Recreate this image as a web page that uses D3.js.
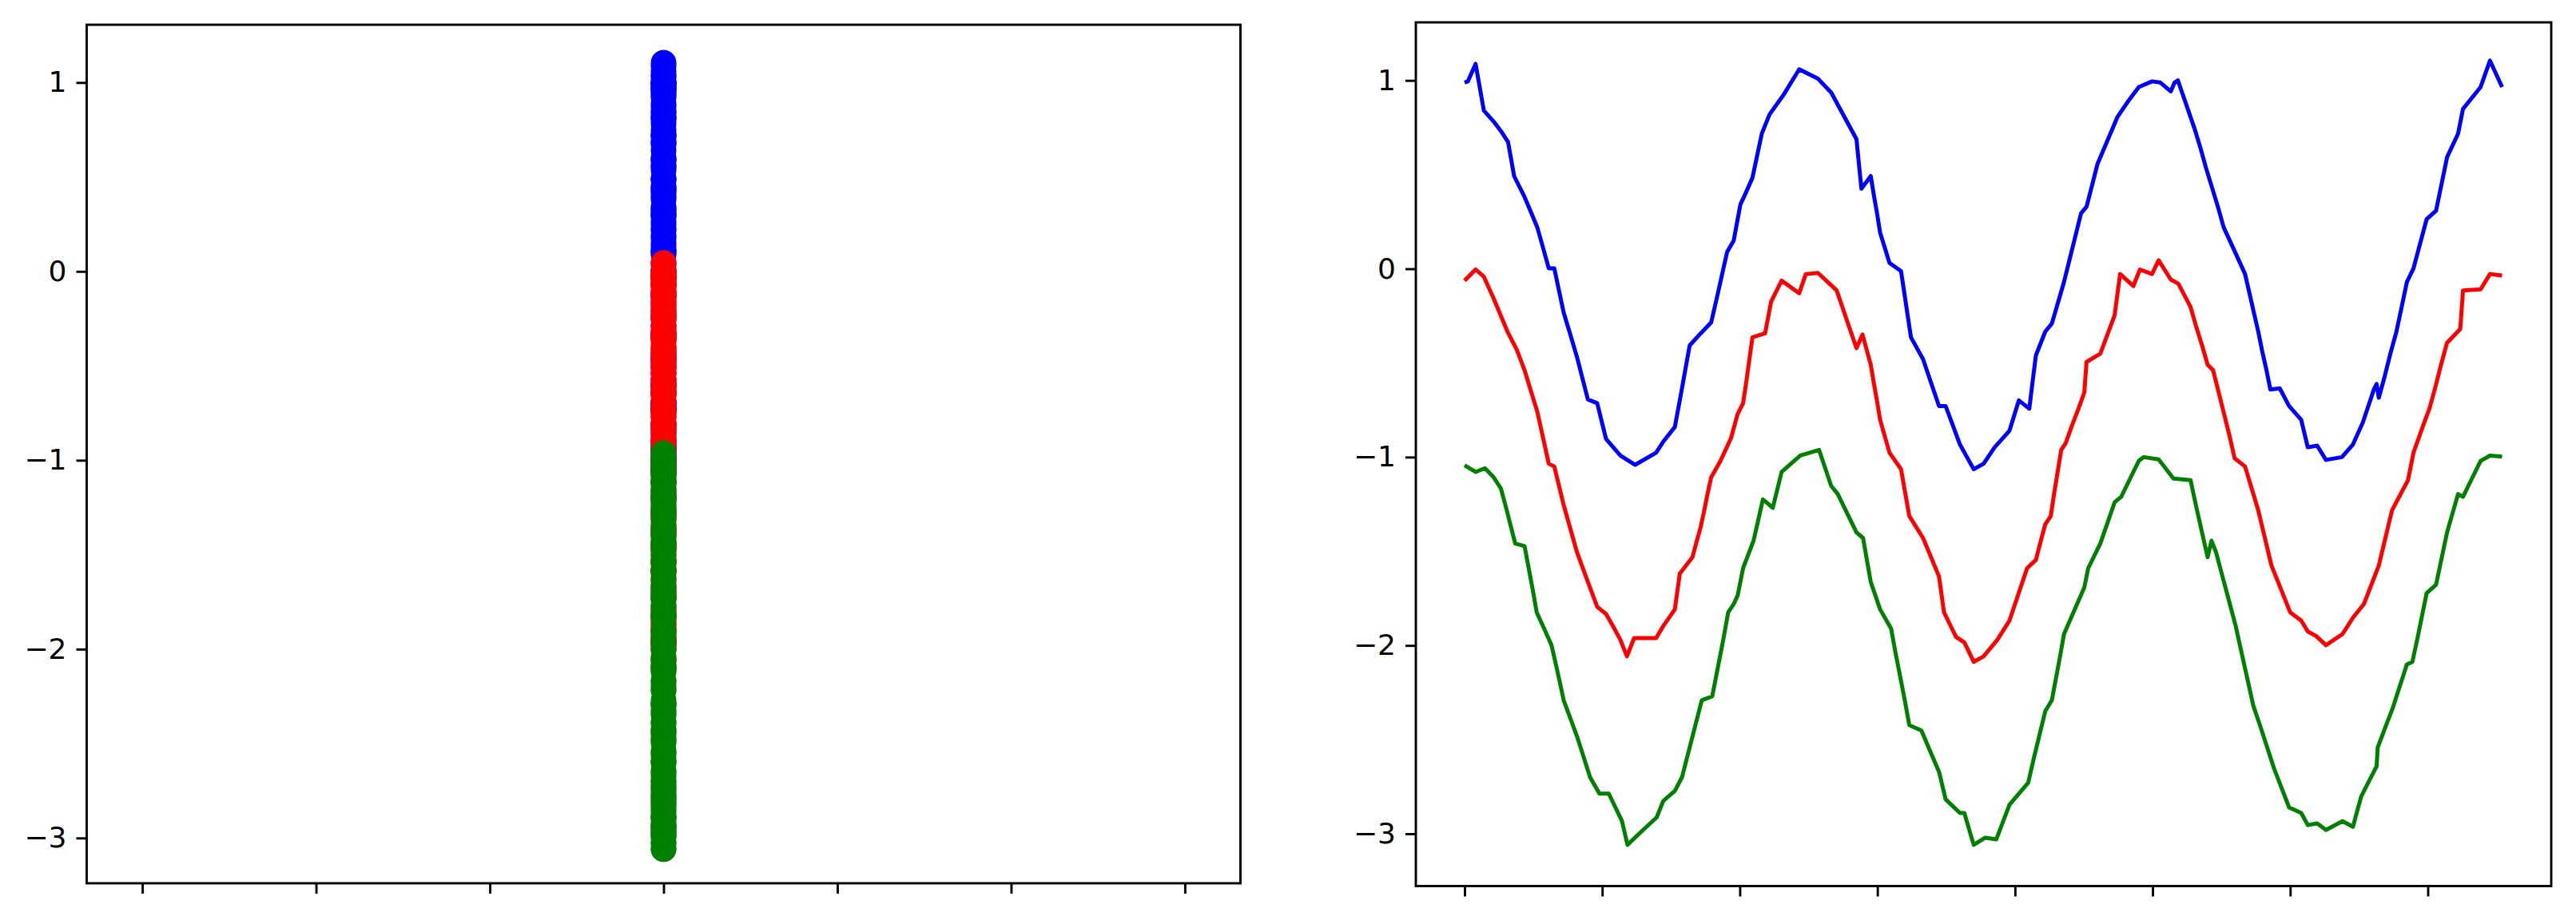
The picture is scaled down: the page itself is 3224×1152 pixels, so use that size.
<!DOCTYPE html>
<html><head><meta charset="utf-8">
<script src="https://cdn.jsdelivr.net/npm/d3@7"></script>
<style>html,body{margin:0;padding:0;background:#fff;}svg{display:block;}</style>
</head><body>
<svg id="chart" width="3224" height="1152"></svg>
<script>
// ---------- data ----------
const yTicks = [-3, -2, -1, 0, 1];
const leftXTicks = [-3, -2, -1, 0, 1, 2, 3];
const rightXTicks = [0, 2.5, 5, 7.5, 10, 12.5, 15, 17.5];
const scatterX = 0;

const blueT = [0.00,0.06,0.20,0.275,0.35,0.53,0.68,0.79,0.845,0.90,1.09,1.205,1.32,1.425,1.53,1.63,1.715,1.80,1.92,2.04,2.14,2.24,2.41,2.49,2.57,2.83,3.10,3.48,3.61,3.82,3.91,3.97,4.03,4.09,4.29,4.48,4.58,4.675,4.77,4.89,4.95,5.01,5.12,5.23,5.315,5.40,5.54,5.79,6.08,6.42,6.66,6.89,7.12,7.165,7.21,7.38,7.435,7.495,7.55,7.635,7.72,7.93,7.99,8.05,8.11,8.33,8.475,8.62,8.74,8.87,9.00,9.125,9.25,9.43,9.63,9.90,10.07,10.26,10.32,10.38,10.55,10.67,10.78,10.89,10.99,11.10,11.20,11.30,11.40,11.50,11.68,11.86,12.05,12.25,12.49,12.64,12.83,12.90,12.96,13.11,13.26,13.37,13.47,13.58,13.69,13.79,13.985,14.18,14.26,14.34,14.42,14.49,14.57,14.64,14.81,14.98,15.20,15.26,15.32,15.49,15.65,15.94,16.14,16.32,16.42,16.52,16.57,16.61,16.72,16.82,16.93,17.025,17.12,17.24,17.36,17.48,17.65,17.75,17.85,18.05,18.14,18.46,18.545,18.63,18.74,18.85];
const blueV = [0.989,0.995,1.088,0.964,0.840,0.781,0.723,0.673,0.583,0.492,0.381,0.301,0.221,0.112,0.002,0.002,-0.115,-0.232,-0.349,-0.466,-0.580,-0.694,-0.714,-0.809,-0.904,-0.992,-1.041,-0.977,-0.918,-0.840,-0.699,-0.602,-0.504,-0.407,-0.343,-0.285,-0.159,-0.035,0.089,0.150,0.245,0.340,0.410,0.483,0.600,0.717,0.819,0.921,1.059,1.009,0.936,0.812,0.688,0.556,0.425,0.492,0.392,0.292,0.191,0.111,0.031,-0.013,-0.130,-0.247,-0.364,-0.480,-0.605,-0.729,-0.729,-0.831,-0.933,-0.999,-1.064,-1.035,-0.948,-0.860,-0.699,-0.743,-0.600,-0.460,-0.334,-0.291,-0.181,-0.071,0.047,0.176,0.294,0.329,0.443,0.557,0.681,0.805,0.887,0.965,0.995,0.989,0.942,0.989,1.000,0.873,0.746,0.641,0.536,0.431,0.326,0.221,0.097,-0.028,-0.130,-0.232,-0.334,-0.436,-0.539,-0.641,-0.635,-0.729,-0.802,-0.875,-0.948,-0.939,-1.015,-1.000,-0.933,-0.816,-0.729,-0.641,-0.612,-0.685,-0.568,-0.451,-0.334,-0.203,-0.071,0.002,0.133,0.264,0.308,0.450,0.592,0.717,0.849,0.965,1.035,1.105,1.035,0.965];

const redT = [0.00,0.20,0.35,0.53,0.655,0.78,0.95,1.09,1.205,1.32,1.39,1.46,1.53,1.63,1.715,1.80,1.92,2.04,2.14,2.24,2.41,2.57,2.70,2.83,2.95,3.08,3.48,3.61,3.82,3.865,3.91,4.14,4.215,4.29,4.355,4.415,4.48,4.65,4.84,4.96,5.06,5.12,5.175,5.23,5.46,5.515,5.57,5.76,6.08,6.20,6.42,6.76,6.88,7.00,7.12,7.23,7.305,7.38,7.435,7.495,7.55,7.635,7.72,7.93,8.005,8.08,8.33,8.475,8.62,8.665,8.71,8.82,8.93,9.08,9.25,9.43,9.68,9.90,10.06,10.22,10.38,10.465,10.55,10.65,10.71,10.775,10.84,10.92,11.03,11.15,11.26,11.28,11.30,11.55,11.68,11.81,11.86,11.91,12.15,12.27,12.49,12.61,12.83,12.97,13.19,13.29,13.40,13.50,13.60,13.70,13.80,13.90,13.99,14.18,14.30,14.42,14.50,14.58,14.66,14.83,15.00,15.20,15.32,15.47,15.65,15.95,16.14,16.34,16.475,16.61,16.69,16.77,16.85,17.00,17.14,17.19,17.24,17.335,17.43,17.53,17.64,17.74,17.85,18.09,18.115,18.14,18.46,18.63,18.85];
const redV = [-0.063,-0.004,-0.042,-0.159,-0.247,-0.334,-0.431,-0.539,-0.649,-0.758,-0.850,-0.943,-1.035,-1.050,-1.152,-1.254,-1.379,-1.503,-1.583,-1.663,-1.795,-1.833,-1.900,-1.970,-2.058,-1.961,-1.961,-1.897,-1.809,-1.714,-1.619,-1.532,-1.450,-1.371,-1.283,-1.195,-1.108,-1.020,-0.900,-0.772,-0.714,-0.597,-0.480,-0.364,-0.343,-0.258,-0.174,-0.063,-0.130,-0.028,-0.022,-0.115,-0.217,-0.320,-0.422,-0.349,-0.430,-0.510,-0.607,-0.705,-0.802,-0.890,-0.977,-1.064,-1.190,-1.313,-1.430,-1.532,-1.634,-1.729,-1.824,-1.890,-1.955,-1.984,-2.087,-2.058,-1.970,-1.868,-1.729,-1.590,-1.546,-1.450,-1.357,-1.313,-1.196,-1.079,-0.962,-0.927,-0.837,-0.746,-0.656,-0.575,-0.495,-0.451,-0.349,-0.247,-0.137,-0.028,-0.092,-0.004,-0.028,0.045,-0.057,-0.080,-0.203,-0.305,-0.408,-0.510,-0.539,-0.656,-0.772,-0.890,-1.006,-1.050,-1.166,-1.283,-1.380,-1.478,-1.576,-1.700,-1.824,-1.868,-1.926,-1.950,-1.999,-1.940,-1.853,-1.780,-1.678,-1.576,-1.478,-1.381,-1.283,-1.200,-1.123,-1.050,-0.977,-0.899,-0.821,-0.743,-0.626,-0.510,-0.393,-0.320,-0.218,-0.115,-0.109,-0.028,-0.036];

const greenT = [0.00,0.20,0.37,0.53,0.66,0.75,0.835,0.92,1.09,1.165,1.24,1.31,1.445,1.58,1.655,1.73,1.80,1.92,2.04,2.16,2.28,2.45,2.62,2.86,2.91,2.96,3.22,3.49,3.61,3.82,3.95,4.04,4.13,4.22,4.31,4.50,4.60,4.70,4.79,4.89,4.96,5.06,5.25,5.335,5.42,5.60,5.68,5.76,6.10,6.44,6.55,6.66,6.78,6.95,7.12,7.24,7.31,7.38,7.465,7.55,7.75,7.83,7.915,8.00,8.08,8.30,8.46,8.62,8.68,8.74,9.00,9.08,9.165,9.25,9.46,9.66,9.78,9.90,10.24,10.34,10.445,10.55,10.67,10.745,10.82,10.89,11.075,11.26,11.33,11.55,11.68,11.81,11.93,12.09,12.25,12.34,12.61,12.88,13.19,13.29,13.395,13.50,13.57,13.65,13.77,13.89,14.01,14.09,14.17,14.25,14.33,14.46,14.585,14.71,14.845,14.98,15.20,15.32,15.49,15.65,15.95,16.14,16.215,16.29,16.43,16.57,16.59,16.725,16.86,16.99,17.12,17.22,17.31,17.395,17.48,17.65,17.75,17.85,17.95,18.05,18.14,18.30,18.46,18.63,18.85];
const greenV = [-1.044,-1.079,-1.059,-1.108,-1.167,-1.264,-1.362,-1.459,-1.473,-1.590,-1.707,-1.824,-1.910,-1.999,-2.096,-2.194,-2.291,-2.386,-2.481,-2.590,-2.700,-2.787,-2.787,-2.933,-2.996,-3.059,-2.986,-2.913,-2.826,-2.773,-2.700,-2.598,-2.496,-2.393,-2.291,-2.270,-2.120,-1.970,-1.824,-1.780,-1.736,-1.590,-1.444,-1.335,-1.225,-1.269,-1.174,-1.079,-0.992,-0.962,-1.057,-1.152,-1.196,-1.298,-1.400,-1.430,-1.547,-1.663,-1.736,-1.809,-1.911,-2.040,-2.167,-2.295,-2.423,-2.452,-2.562,-2.671,-2.744,-2.817,-2.890,-2.890,-2.975,-3.059,-3.021,-3.030,-2.938,-2.846,-2.729,-2.602,-2.476,-2.349,-2.291,-2.174,-2.057,-1.940,-1.816,-1.692,-1.590,-1.459,-1.350,-1.240,-1.211,-1.115,-1.020,-1.000,-1.012,-1.114,-1.123,-1.259,-1.396,-1.532,-1.444,-1.503,-1.634,-1.765,-1.897,-2.003,-2.109,-2.214,-2.320,-2.432,-2.544,-2.656,-2.758,-2.860,-2.890,-2.954,-2.945,-2.980,-2.933,-2.963,-2.882,-2.802,-2.722,-2.642,-2.542,-2.438,-2.335,-2.218,-2.101,-2.087,-1.965,-1.843,-1.722,-1.678,-1.539,-1.400,-1.298,-1.196,-1.211,-1.115,-1.020,-0.992,-0.997];

const seriesColors = ["#0000ff", "#ff0000", "#008000"];

// ---------- drawing ----------
const svg = d3.select("#chart");
svg.append("rect").attr("width", 3224).attr("height", 1152).attr("fill", "#fff");

const FONT = "'DejaVu Sans', sans-serif";
const FS = 36, TICK = 13, PAD = 12, SPW = 2.9;

const series = [
  {t: blueT, v: blueV, c: seriesColors[0]},
  {t: redT, v: redV, c: seriesColors[1]},
  {t: greenT, v: greenV, c: seriesColors[2]}
];

function panel(box, x, y, xt) {
  const g = svg.append("g");
  const ay = g.append("g").attr("transform", `translate(${box.l},0)`)
    .call(d3.axisLeft(y).tickValues(yTicks).tickSize(TICK).tickPadding(PAD)
      .tickFormat(d => d < 0 ? "\u2212" + Math.abs(d) : String(d)));
  const ax = g.append("g").attr("transform", `translate(0,${box.b})`)
    .call(d3.axisBottom(x).tickValues(xt).tickSize(TICK).tickFormat(""));
  [ay, ax].forEach(a => {
    a.select(".domain").remove();
    a.selectAll(".tick line").attr("stroke", "#000").attr("stroke-width", SPW);
    a.selectAll(".tick text").attr("fill", "#000").style("font-family", FONT).style("font-size", FS + "px");
  });
  return g;
}

// Left panel (scatter of every value at one x position)
const L = {l: 108.5, r: 1552.5, t: 31, b: 1106};
const xL = d3.scaleLinear().domain([-3.32, 3.32]).range([L.l, L.r]);
const yL = d3.scaleLinear().domain([1, -3]).range([103.3, 1049.3]);
const gL = panel(L, xL, yL, leftXTicks);
series.forEach(s => {
  gL.append("g").selectAll("circle").data(s.v).join("circle")
    .attr("cx", xL(scatterX)).attr("cy", d => yL(d)).attr("r", 16).attr("fill", s.c);
});
gL.append("rect").attr("x", L.l).attr("y", L.t).attr("width", L.r - L.l).attr("height", L.b - L.t)
  .attr("fill", "none").attr("stroke", "#000").attr("stroke-width", SPW);

// Right panel (lines)
const R = {l: 1772, r: 3193, t: 28, b: 1109.5};
const xR = d3.scaleLinear().domain([0, 18.85]).range([1833, 3131.5]);
const yR = d3.scaleLinear().domain([1, -3]).range([100.7, 1044]);
const gR = panel(R, xR, yR, rightXTicks);
series.forEach(s => {
  const pts = s.t.map((t, i) => [t, s.v[i]]);
  gR.append("path").datum(pts)
    .attr("d", d3.line().x(d => xR(d[0])).y(d => yR(d[1])))
    .attr("fill", "none").attr("stroke", s.c).attr("stroke-width", 5)
    .attr("stroke-linejoin", "round").attr("stroke-linecap", "butt");
});
gR.append("rect").attr("x", R.l).attr("y", R.t).attr("width", R.r - R.l).attr("height", R.b - R.t)
  .attr("fill", "none").attr("stroke", "#000").attr("stroke-width", SPW);
</script>
</body></html>
